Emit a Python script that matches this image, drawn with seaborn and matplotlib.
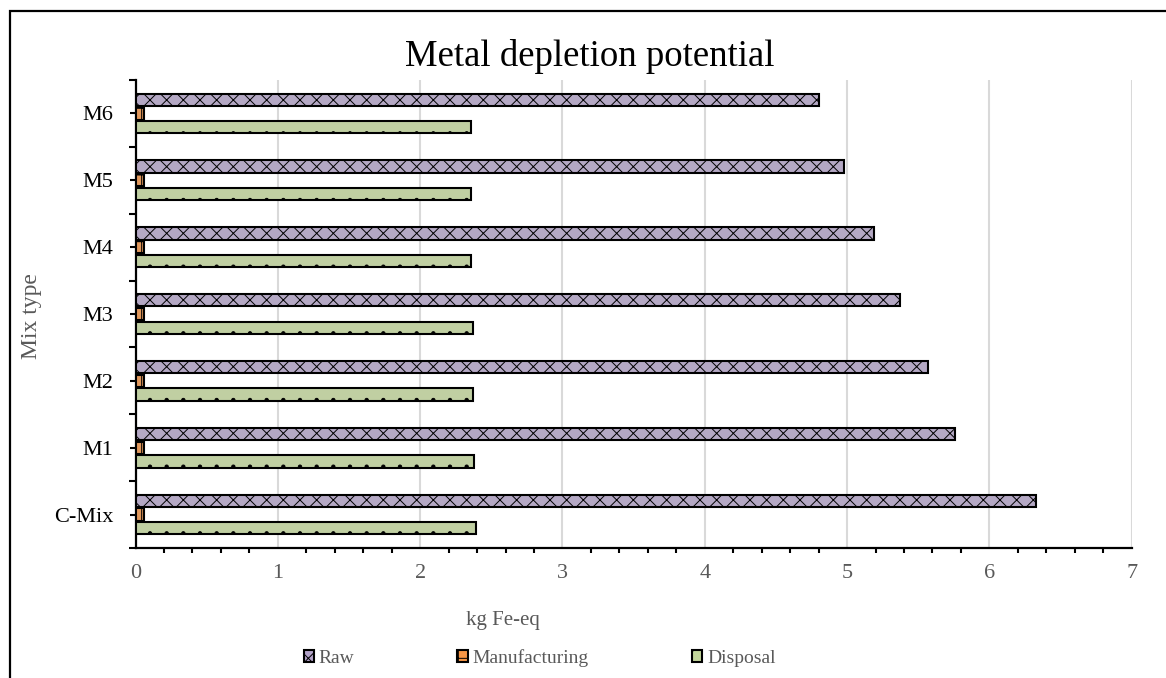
import matplotlib
matplotlib.use("Agg")
import matplotlib.pyplot as plt
from matplotlib.patches import Patch, Rectangle
from matplotlib.ticker import MultipleLocator, FixedLocator, NullFormatter, FixedFormatter
import seaborn as sns
import pandas as pd

# Metal depletion potential per mix type (kg Fe-eq), by life-cycle stage
mixes = ["C-Mix", "M1", "M2", "M3", "M4", "M5", "M6"]
raw = [6.33, 5.76, 5.57, 5.37, 5.19, 4.98, 4.80]
manufacturing = [0.06, 0.06, 0.06, 0.06, 0.06, 0.06, 0.06]
disposal = [2.39, 2.38, 2.37, 2.37, 2.36, 2.36, 2.36]
stages = ["Raw", "Manufacturing", "Disposal"]
x_ticks = [0, 1, 2, 3, 4, 5, 6, 7]

colors = {"Raw": "#b3a3c9", "Manufacturing": "#f79646", "Disposal": "#c3d69b"}
hatches = {"Raw": "xx", "Manufacturing": "+", "Disposal": "."}

rows = []
for stage, vals in zip(stages, [raw, manufacturing, disposal]):
    for m, v in zip(mixes, vals):
        rows.append({"Mix": m, "Stage": stage, "Value": v})
df = pd.DataFrame(rows)

sns.set_style("white")
plt.rcParams["font.family"] = ["Liberation Serif", "DejaVu Serif"]
plt.rcParams["hatch.linewidth"] = 0.7

fig = plt.figure(figsize=(11.66, 6.78), dpi=100)
ax = fig.add_axes([135.5 / 1166, 1 - 548 / 678, (1131.7 - 135.5) / 1166, (548 - 80) / 678])

order = mixes[::-1]  # M6 at top, C-Mix at bottom
sns.barplot(data=df, y="Mix", x="Value", hue="Stage", order=order,
            hue_order=stages, palette=colors, orient="h", width=0.615,
            gap=0.1, edgecolor="black", linewidth=1.5, legend=False, ax=ax,
            zorder=3)

for cont, stage in zip(ax.containers, stages):
    for bar in cont:
        bar.set_hatch(hatches[stage])
        bar.set_edgecolor("black")
        bar.set_linewidth(1.5)

ax.set_xlim(0, 7)
ax.set_ylim(6.5, -0.5)

# x axis ticks
ax.xaxis.set_major_locator(FixedLocator(x_ticks))
ax.xaxis.set_minor_locator(MultipleLocator(0.2))
ax.tick_params(axis="x", which="major", direction="inout", length=7, width=1.5,
               colors="black", labelcolor="#595959", labelsize=16, pad=8)
ax.tick_params(axis="x", which="minor", direction="out", length=3.6, width=1.5,
               colors="black", bottom=True)

# y axis: tick marks between categories, labels at category centres
ax.yaxis.set_major_locator(FixedLocator([i - 0.5 for i in range(len(order) + 1)]))
ax.yaxis.set_major_formatter(NullFormatter())
ax.yaxis.set_minor_locator(FixedLocator(list(range(len(order)))))
ax.yaxis.set_minor_formatter(FixedFormatter(order))
ax.tick_params(axis="y", which="major", direction="out", length=5, width=1.5,
               colors="black", left=True)
ax.tick_params(axis="y", which="minor", direction="out", length=4, width=1.5,
               colors="black", labelcolor="black", labelsize=16, pad=12, left=True)

ax.set_xlabel("")
ax.set_ylabel("")
ax.xaxis.grid(True, color="#d9d9d9", linewidth=1.5, zorder=0)
ax.yaxis.grid(False)
ax.set_axisbelow(True)

for s in ["top", "right"]:
    ax.spines[s].set_visible(False)
for s in ["left", "bottom"]:
    ax.spines[s].set_color("black")
    ax.spines[s].set_linewidth(1.6)

fig.text(590 / 1166, 1 - 57 / 678, "Metal depletion potential", fontsize=26.5,
         ha="center", va="center", color="black")
fig.text(503 / 1166, 1 - 621 / 678, "kg Fe-eq", fontsize=15,
         ha="center", va="center", color="#595959")
fig.text(32 / 1166, 1 - 316 / 678, "Mix type", fontsize=17, rotation=90,
         ha="center", va="center", color="#595959")

handles = [Patch(facecolor=colors[s], edgecolor="black", hatch=hatches[s],
                 linewidth=1.5, label=s) for s in stages]
leg = fig.legend(handles=handles, loc="center", ncol=3, frameon=False,
                 bbox_to_anchor=(539.5 / 1166, 1 - 658 / 678),
                 fontsize=14, handlelength=0.52, handleheight=0.52,
                 handletextpad=0.26, columnspacing=5.3)
for t in leg.get_texts():
    t.set_color("#595959")

# chart frame
fig.patches.append(Rectangle((9.5 / 1166, -0.05), 1.2, 1 - 11 / 678 + 0.05,
                             transform=fig.transFigure, fill=False,
                             edgecolor="black", linewidth=1.6, zorder=10))

fig.savefig("out.png", dpi=100)
